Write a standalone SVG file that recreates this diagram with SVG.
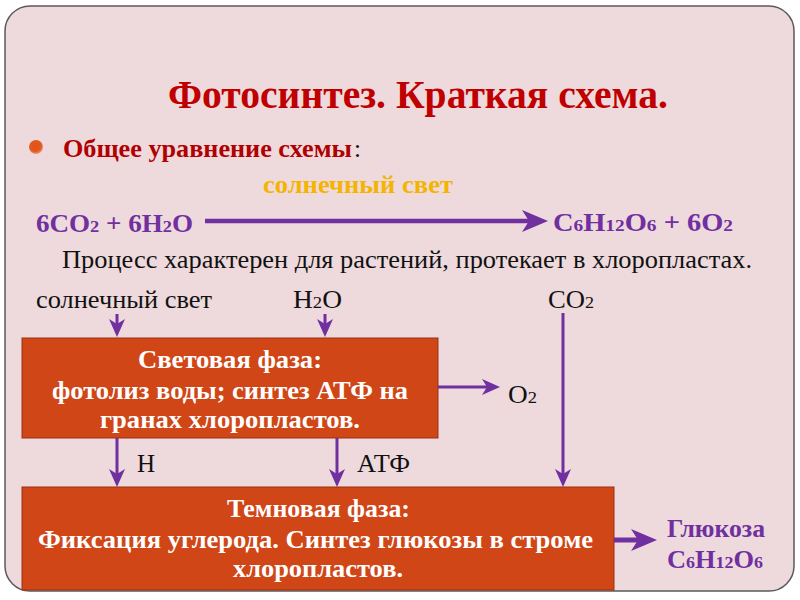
<svg xmlns="http://www.w3.org/2000/svg" width="800" height="600" viewBox="0 0 800 600">
<style>
.b{font-weight:bold;}
.pur{fill:#7030a0;}
.blk{fill:#111;}
.wht{fill:#ffffff;}
.box{fill:#d04617;stroke:#9a3010;stroke-width:1;}
.ln{stroke:#7030a0;fill:none;}
.s{font-size:17px;}
</style>
<defs>
<marker id="ah" markerUnits="userSpaceOnUse" markerWidth="18" markerHeight="16" viewBox="0 0 18 16" refX="5" refY="8" orient="auto">
<path d="M0,0 L18,8 L0,16 L5,8 z" fill="#7030a0"/>
</marker>
<marker id="ahb" markerUnits="userSpaceOnUse" markerWidth="26" markerHeight="22" viewBox="0 0 26 22" refX="7" refY="11" orient="auto">
<path d="M0,0 L26,11 L0,22 L7,11 z" fill="#7030a0"/>
</marker>
<radialGradient id="bul" cx="0.45" cy="0.4" r="0.6">
<stop offset="0" stop-color="#e8501a"/>
<stop offset="0.7" stop-color="#e05a20"/>
<stop offset="1" stop-color="#f09a70"/>
</radialGradient>
</defs>

<rect x="5" y="6" width="789" height="585" rx="25" ry="25" fill="#eed9dc" stroke="#5a5a5a" stroke-width="1.5"/>

<g font-family="'Liberation Serif', 'Times New Roman', serif">
<g id="title">
<text class="b" x="168" y="108" font-size="40" fill="#c00000" textLength="500" lengthAdjust="spacingAndGlyphs">Фотосинтез. Краткая схема.</text>
</g>

<g id="heading">
<circle cx="36" cy="147" r="7" fill="url(#bul)"/>
<text class="b" x="63" y="157" font-size="25" fill="#b00000" textLength="289" lengthAdjust="spacingAndGlyphs">Общее уравнение схемы</text>
<text class="blk" x="354" y="157" font-size="25">:</text>
</g>

<g id="equation">
<text class="b" x="263" y="193" font-size="25" fill="#f4b400" textLength="190" lengthAdjust="spacingAndGlyphs">солнечный свет</text>
<text class="b pur" x="36" y="232" font-size="25" textLength="157" lengthAdjust="spacingAndGlyphs">6CO<tspan class="s">2</tspan> + 6H<tspan class="s">2</tspan>O</text>
<text class="b pur" x="553" y="231" font-size="25" textLength="180" lengthAdjust="spacingAndGlyphs">C<tspan class="s">6</tspan>H<tspan class="s">12</tspan>O<tspan class="s">6</tspan>  +  6O<tspan class="s">2</tspan></text>
</g>

<g id="process">
<text class="blk" x="62" y="268" font-size="25" textLength="690" lengthAdjust="spacingAndGlyphs">Процесс характерен для растений, протекает в хлоропластах.</text>
</g>

<g id="inputs">
<text class="blk" x="36" y="308" font-size="25" textLength="176" lengthAdjust="spacingAndGlyphs">солнечный свет</text>
<text class="blk" x="293" y="308" font-size="25" textLength="49" lengthAdjust="spacingAndGlyphs">H<tspan class="s">2</tspan>O</text>
<text class="blk" x="548" y="308" font-size="25" textLength="46" lengthAdjust="spacingAndGlyphs">CO<tspan class="s">2</tspan></text>
</g>

<g id="light-phase">
<rect class="box" x="22" y="338" width="416" height="100"/>
<text class="b wht" x="138" y="368" font-size="25" textLength="184" lengthAdjust="spacingAndGlyphs">Световая фаза:</text>
<text class="b wht" x="52" y="399" font-size="25" textLength="356" lengthAdjust="spacingAndGlyphs">фотолиз воды; синтез АТФ на</text>
<text class="b wht" x="100" y="428" font-size="25" textLength="260" lengthAdjust="spacingAndGlyphs">гранах хлоропластов.</text>
</g>

<g id="o2">
<text class="blk" x="508" y="403" font-size="25" textLength="29" lengthAdjust="spacingAndGlyphs">O<tspan class="s">2</tspan></text>
</g>

<g id="products-light">
<text class="blk" x="137" y="472" font-size="25">H</text>
<text class="blk" x="357" y="472" font-size="25" textLength="53" lengthAdjust="spacingAndGlyphs">АТФ</text>
</g>

<g id="dark-phase">
<rect class="box" x="22" y="487" width="592" height="103"/>
<text class="b wht" x="227" y="517" font-size="25" textLength="183" lengthAdjust="spacingAndGlyphs">Темновая фаза:</text>
<text class="b wht" x="38" y="548" font-size="25" textLength="555" lengthAdjust="spacingAndGlyphs">Фиксация углерода. Синтез глюкозы в строме</text>
<text class="b wht" x="233" y="577" font-size="25" textLength="170" lengthAdjust="spacingAndGlyphs">хлоропластов.</text>
</g>

<g id="glucose">
<text class="b pur" x="667" y="537" font-size="25" textLength="98" lengthAdjust="spacingAndGlyphs">Глюкоза</text>
<text class="b pur" x="667" y="568" font-size="25" textLength="96" lengthAdjust="spacingAndGlyphs">C<tspan class="s">6</tspan>H<tspan class="s">12</tspan>O<tspan class="s">6</tspan></text>
</g>
</g>

<g id="connectors">
<line class="ln" x1="205" y1="221" x2="529" y2="221" stroke-width="4.5" marker-end="url(#ahb)"/>
<line class="ln" x1="117" y1="314" x2="117" y2="324" stroke-width="3" marker-end="url(#ah)"/>
<line class="ln" x1="325" y1="314" x2="325" y2="324" stroke-width="3" marker-end="url(#ah)"/>
<line class="ln" x1="563" y1="313" x2="563" y2="474" stroke-width="3" marker-end="url(#ah)"/>
<line class="ln" x1="438" y1="387" x2="487" y2="387" stroke-width="3" marker-end="url(#ah)"/>
<line class="ln" x1="117" y1="438" x2="117" y2="474" stroke-width="3" marker-end="url(#ah)"/>
<line class="ln" x1="337" y1="438" x2="337" y2="474" stroke-width="3" marker-end="url(#ah)"/>
<line class="ln" x1="614" y1="540" x2="638" y2="540" stroke-width="5" marker-end="url(#ahb)"/>
</g>
</svg>
